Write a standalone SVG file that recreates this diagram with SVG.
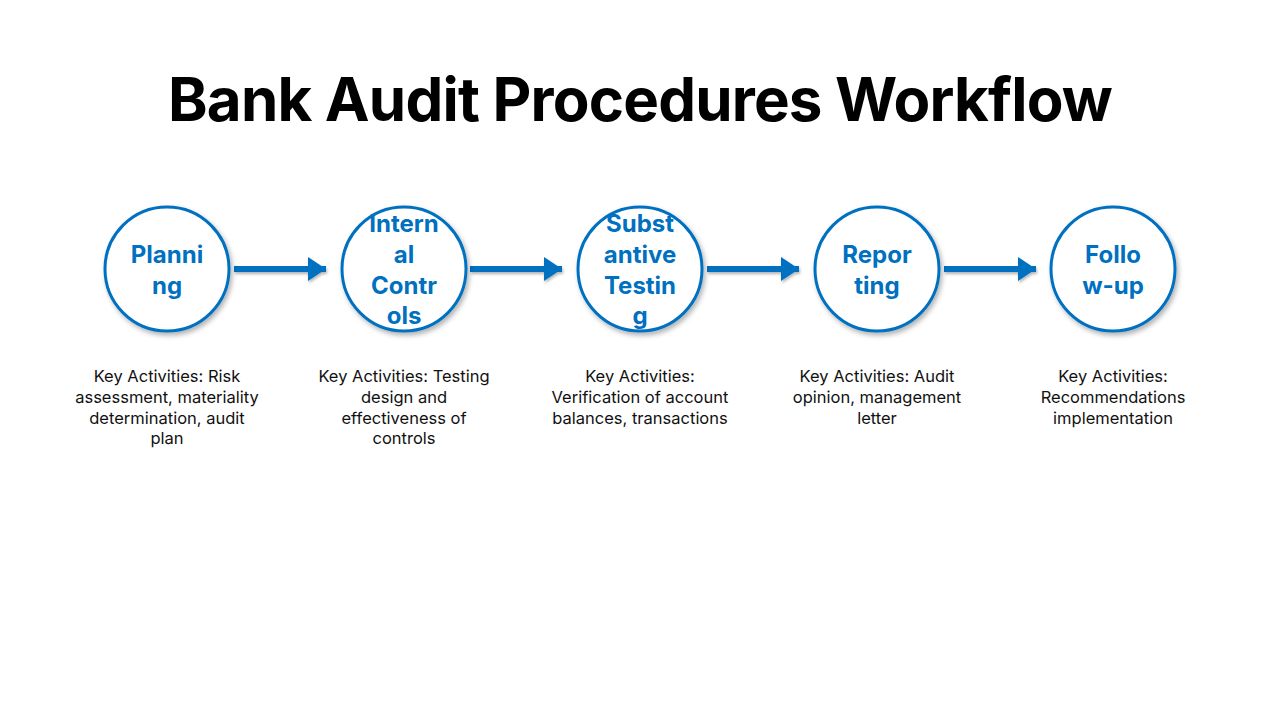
<svg xmlns="http://www.w3.org/2000/svg" width="1280" height="720" viewBox="0 0 1280 720">
<defs>
<filter id="sh" x="-20%" y="-20%" width="150%" height="150%"><feDropShadow dx="2" dy="3" stdDeviation="2.5" flood-color="#000" flood-opacity="0.3"/></filter>
<filter id="sha" filterUnits="userSpaceOnUse" x="0" y="240" width="1280" height="60"><feDropShadow dx="1" dy="2" stdDeviation="1.5" flood-color="#000" flood-opacity="0.3"/></filter>
<marker id="ah" markerWidth="4" markerHeight="4" refX="3" refY="2" orient="auto" markerUnits="strokeWidth"><path d="M0,0 L3,2 L0,4 Z" fill="#0070c0"/></marker>
<style>
.c{fill:#fff;stroke:#0070c0;stroke-width:3;filter:url(#sh)}
.n{font-family:Inter,"Liberation Sans",sans-serif;font-weight:700;font-size:24px;fill:#0070c0;text-anchor:middle}
.d{font-family:Inter,"Liberation Sans",sans-serif;font-size:16.5px;fill:#111;text-anchor:middle}
.a{stroke:#0070c0;stroke-width:6;fill:none;marker-end:url(#ah)}
</style>
</defs>
<rect width="1280" height="720" fill="#fff"/>
<text x="640" y="121" font-family="Inter,'Liberation Sans',sans-serif" font-weight="700" font-size="60" text-anchor="middle" fill="#000" letter-spacing="-0.8">Bank Audit Procedures Workflow</text>
<g id="connectors" filter="url(#sha)">
<line class="a" x1="234" y1="269" x2="326" y2="269"/>
<line class="a" x1="470" y1="269" x2="562" y2="269"/>
<line class="a" x1="707" y1="269" x2="799" y2="269"/>
<line class="a" x1="944" y1="269" x2="1036" y2="269"/>
</g>
<g id="n1"><circle class="c" cx="167" cy="269" r="62"/>
<text class="n" x="167" y="263">Planni</text><text class="n" x="167" y="294">ng</text>
<text class="d" x="167" y="382">Key Activities: Risk</text><text class="d" x="167" y="403">assessment, materiality</text><text class="d" x="167" y="424">determination, audit</text><text class="d" x="167" y="444">plan</text></g>
<g id="n2"><circle class="c" cx="404" cy="269" r="62"/>
<text class="n" x="404" y="232">Intern</text><text class="n" x="404" y="263">al</text><text class="n" x="404" y="294">Contr</text><text class="n" x="404" y="324">ols</text>
<text class="d" x="404" y="382">Key Activities: Testing</text><text class="d" x="404" y="403">design and</text><text class="d" x="404" y="424">effectiveness of</text><text class="d" x="404" y="444">controls</text></g>
<g id="n3"><circle class="c" cx="640" cy="269" r="62"/>
<text class="n" x="640" y="232">Subst</text><text class="n" x="640" y="263">antive</text><text class="n" x="640" y="294">Testin</text><text class="n" x="640" y="324">g</text>
<text class="d" x="640" y="382">Key Activities:</text><text class="d" x="640" y="403">Verification of account</text><text class="d" x="640" y="424">balances, transactions</text></g>
<g id="n4"><circle class="c" cx="877" cy="269" r="62"/>
<text class="n" x="877" y="263">Repor</text><text class="n" x="877" y="294">ting</text>
<text class="d" x="877" y="382">Key Activities: Audit</text><text class="d" x="877" y="403">opinion, management</text><text class="d" x="877" y="424">letter</text></g>
<g id="n5"><circle class="c" cx="1113" cy="269" r="62"/>
<text class="n" x="1113" y="263">Follo</text><text class="n" x="1113" y="294">w-up</text>
<text class="d" x="1113" y="382">Key Activities:</text><text class="d" x="1113" y="403">Recommendations</text><text class="d" x="1113" y="424">implementation</text></g>
</svg>
